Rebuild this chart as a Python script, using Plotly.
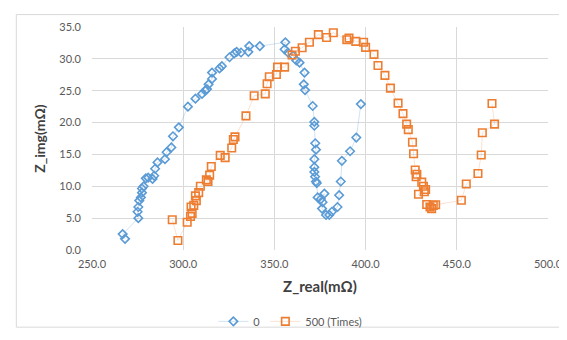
import plotly.graph_objects as go

# Series "0"
x0 = [268.1, 266.8, 275.4, 275.0, 275.4, 275.9, 276.8, 277.4, 277.4, 278.3, 279.5, 280.8,
      283.2, 284.1, 284.6, 285.9, 290.0, 290.9, 293.5, 294.4, 297.6, 302.6, 306.7, 310.3,
      312.1, 313.0, 313.9, 315.8, 315.8, 319.9, 321.2, 325.4, 328.0, 329.3, 331.7, 335.7,
      336.2, 342.0, 356.0, 355.6, 357.4, 360.2, 362.0, 363.8, 366.5, 366.1, 366.8, 371.0,
      371.9, 371.9, 372.4, 372.8, 371.9, 371.9, 371.9, 372.3, 372.8, 373.2, 373.7, 375.5,
      377.4, 376.4, 376.1, 378.3, 380.1, 381.5, 384.6, 385.5, 386.4, 387.0, 391.5, 394.9,
      397.4]
y0 = [1.75, 2.5, 5.0, 6.0, 6.75, 7.75, 8.25, 9.0, 9.65, 10.0, 11.25, 11.35,
      11.15, 11.65, 12.75, 13.75, 14.25, 15.35, 16.1, 17.85, 19.25, 22.5, 23.75, 24.5,
      25.0, 25.25, 26.0, 26.85, 27.85, 28.5, 28.85, 30.25, 30.85, 31.1, 31.0, 31.1,
      32.0, 32.0, 32.6, 31.5, 31.0, 30.5, 29.75, 29.4, 27.85, 26.0, 25.1, 22.6,
      20.1, 19.5, 16.75, 15.75, 14.25, 13.0, 12.25, 11.5, 10.75, 10.5, 8.25, 8.0,
      8.85, 7.5, 6.5, 5.5, 5.5, 6.0, 6.75, 8.6, 10.75, 14.0, 15.5, 17.65,
      22.9]

# Series "500 (Times)"
x500 = [294.0, 297.1, 302.2, 304.0, 304.9, 304.3, 305.8, 307.2, 306.7, 308.5, 309.4, 312.7,
        313.6, 314.5, 315.4, 320.3, 323.0, 326.6, 327.5, 328.4, 334.4, 338.9, 345.0, 346.0,
        347.2, 351.1, 351.7, 355.6, 359.7, 361.5, 365.2, 369.2, 374.1, 378.6, 382.3, 389.7,
        390.9, 394.6, 398.9, 400.0, 404.6, 406.8, 410.6, 413.6, 417.8, 420.5, 422.5, 423.4,
        425.7, 426.3, 427.2, 428.1, 427.7, 430.8, 431.7, 432.9, 432.2, 429.0, 433.5, 435.3,
        436.2, 437.1, 438.4, 452.5, 455.2, 461.6, 463.4, 464.0, 470.7, 469.3]
y500 = [4.75, 1.5, 4.35, 5.25, 5.75, 6.75, 7.0, 7.75, 8.5, 9.0, 10.0, 11.0,
        10.75, 11.75, 13.1, 14.85, 14.5, 16.0, 17.35, 17.75, 21.05, 24.2, 24.5, 26.1,
        27.2, 27.55, 28.7, 28.7, 30.6, 31.2, 31.75, 32.6, 33.8, 33.35, 34.1, 33.0,
        33.25, 32.75, 32.6, 31.8, 30.7, 28.95, 27.4, 25.4, 23.05, 21.4, 19.75, 18.9,
        16.9, 15.1, 12.55, 11.9, 11.5, 10.65, 10.0, 9.5, 9.15, 8.75, 7.15, 6.75,
        6.5, 7.0, 7.1, 7.8, 10.35, 12.0, 14.9, 18.4, 19.75, 23.0]

x_ticks = [250, 300, 350, 400, 450, 500]
y_ticks = [0, 5, 10, 15, 20, 25, 30, 35]

BLUE = "#5B9BD5"
ORANGE = "#ED7D31"
FONT = "Lato, 'Open Sans', sans-serif"

fig = go.Figure()
fig.add_trace(go.Scatter(
    x=x0, y=y0, name="0", mode="lines+markers",
    line=dict(color="rgba(91,155,213,0.28)", width=1),
    marker=dict(symbol="diamond-open", size=6.5, color=BLUE, line=dict(width=1.6, color=BLUE)),
))
fig.add_trace(go.Scatter(
    x=x500, y=y500, name="500 (Times)", mode="lines+markers",
    line=dict(color="rgba(237,125,49,0.22)", width=1),
    marker=dict(symbol="square-open", size=7.5, color=ORANGE, line=dict(width=1.6, color=ORANGE)),
))

fig.update_layout(
    width=567, height=340,
    margin=dict(l=84, r=20, t=18, b=88),
    paper_bgcolor="white", plot_bgcolor="white",
    font=dict(family=FONT, size=11, color="#595959"),
    showlegend=True,
    legend=dict(orientation="h", x=0.435, xanchor="center", y=-0.255, yanchor="top",
                font=dict(size=11, color="#595959"), itemwidth=30,
                bgcolor="rgba(0,0,0,0)"),
    xaxis=dict(
        range=[250, 500], tickvals=x_ticks, ticktext=[f"{v:.1f}" for v in x_ticks],
        showgrid=True, gridcolor="#D9D9D9", gridwidth=1, zeroline=False,
        showline=False, ticks="", ticklabelstandoff=6,
        title=dict(text="Z_real(mΩ)", font=dict(size=15, color="#404040", family=FONT, weight="bold"),
                   standoff=12),
    ),
    yaxis=dict(
        range=[0, 35], tickvals=y_ticks, ticktext=[f"{v:.1f}" for v in y_ticks],
        showgrid=True, gridcolor="#D9D9D9", gridwidth=1, zeroline=False,
        showline=False, ticks="", ticklabelstandoff=10,
        title=dict(text="Z_img(mΩ)", font=dict(size=14, color="#404040", family=FONT, weight="bold"),
                   standoff=10),
    ),
    shapes=[dict(type="rect", xref="paper", yref="paper",
                 x0=-0.166, x1=1.036, y0=-0.346, y1=1.0556,
                 line=dict(color="#D9D9D9", width=1), fillcolor="rgba(0,0,0,0)", layer="below")],
)

fig.write_html("out.html")
